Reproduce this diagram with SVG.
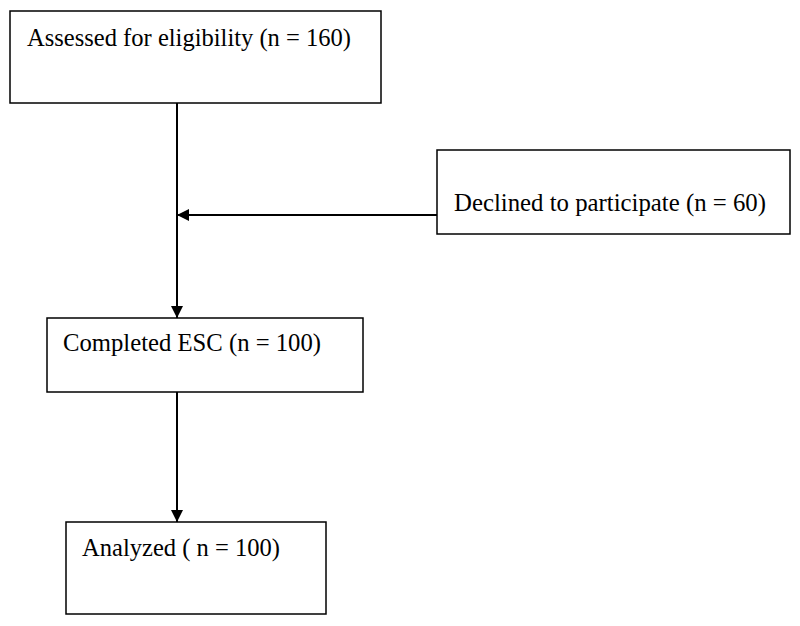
<svg xmlns="http://www.w3.org/2000/svg" width="800" height="626" viewBox="0 0 800 626">
<style>
.box{fill:#fff;stroke:#000;stroke-width:1.5}
.lbl{font-family:"Liberation Serif","Times New Roman",serif;font-size:26px;fill:#000}
.con{stroke:#000;stroke-width:2;fill:none}
</style>
<defs>
<marker id="ah" markerWidth="12" markerHeight="12" refX="12" refY="6" orient="auto" markerUnits="userSpaceOnUse">
<path d="M0,0 L12,6 L0,12 Z" fill="#000"/>
</marker>
</defs>
<rect width="800" height="626" fill="#fff"/>
<g id="connectors">
<line class="con" x1="177" y1="103" x2="177" y2="318" marker-end="url(#ah)"/>
<line class="con" x1="437" y1="215" x2="177" y2="215" marker-end="url(#ah)"/>
<line class="con" x1="177" y1="392" x2="177" y2="522" marker-end="url(#ah)"/>
</g>
<g id="assessed">
<rect class="box" x="10" y="11" width="371" height="92"/>
<text class="lbl" x="27" y="46" textLength="324" lengthAdjust="spacingAndGlyphs">Assessed for eligibility (n = 160)</text>
</g>
<g id="declined">
<rect class="box" x="437" y="150" width="353" height="84"/>
<text class="lbl" x="454" y="211" textLength="312" lengthAdjust="spacingAndGlyphs">Declined to participate (n = 60)</text>
</g>
<g id="completed">
<rect class="box" x="47" y="318" width="316" height="74"/>
<text class="lbl" x="63" y="351" textLength="258" lengthAdjust="spacingAndGlyphs">Completed ESC (n = 100)</text>
</g>
<g id="analyzed">
<rect class="box" x="66" y="522" width="260" height="92"/>
<text class="lbl" x="82" y="556" textLength="198" lengthAdjust="spacingAndGlyphs">Analyzed ( n = 100)</text>
</g>
</svg>
